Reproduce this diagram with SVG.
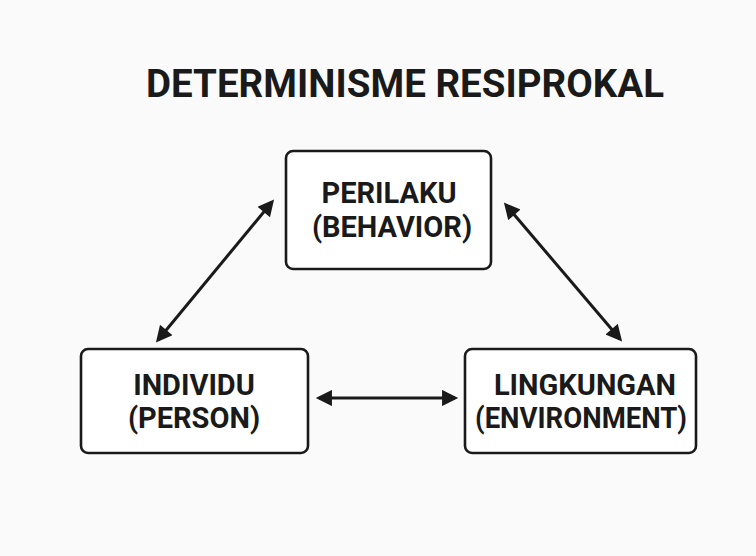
<svg xmlns="http://www.w3.org/2000/svg" width="756" height="556" viewBox="0 0 756 556">
<defs>
<style>
.box{fill:#ffffff;stroke:#1a1a1a;stroke-width:2.6}
.t{font-family:Roboto,"Liberation Sans",sans-serif;font-weight:bold;fill:#1a1a1a;text-anchor:middle}
.lbl{font-size:29px}
.title{font-size:38.5px}
.con{stroke:#1a1a1a;stroke-width:3;fill:none;marker-start:url(#ah);marker-end:url(#ah)}
</style>
<marker id="ah" viewBox="0 0 10 10" refX="8" refY="5" markerWidth="6" markerHeight="5.4" orient="auto-start-reverse" markerUnits="strokeWidth">
<path d="M0,0 L10,5 L0,10 z" fill="#1a1a1a"/>
</marker>
</defs>
<rect width="756" height="556" fill="#fafafa"/>
<text class="t title" x="405" y="97" textLength="518" lengthAdjust="spacingAndGlyphs">DETERMINISME RESIPROKAL</text>
<g id="connectors">
<line class="con" x1="272" y1="202" x2="158" y2="340"/>
<line class="con" x1="506" y1="205" x2="620" y2="339"/>
<line class="con" x1="319" y1="398" x2="455" y2="398"/>
</g>
<g id="perilaku">
<rect class="box" x="286" y="151" width="205" height="118" rx="7"/>
<text class="t lbl" x="389" y="203">PERILAKU</text>
<text class="t lbl" x="392" y="237">(BEHAVIOR)</text>
</g>
<g id="individu">
<rect class="box" x="81" y="349" width="227" height="104" rx="7"/>
<text class="t lbl" x="194" y="395">INDIVIDU</text>
<text class="t lbl" x="194" y="428">(PERSON)</text>
</g>
<g id="lingkungan">
<rect class="box" x="465" y="349" width="231" height="104" rx="7"/>
<text class="t lbl" x="585" y="395">LINGKUNGAN</text>
<text class="t lbl" x="581" y="428" textLength="212" lengthAdjust="spacingAndGlyphs">(ENVIRONMENT)</text>
</g>
</svg>
